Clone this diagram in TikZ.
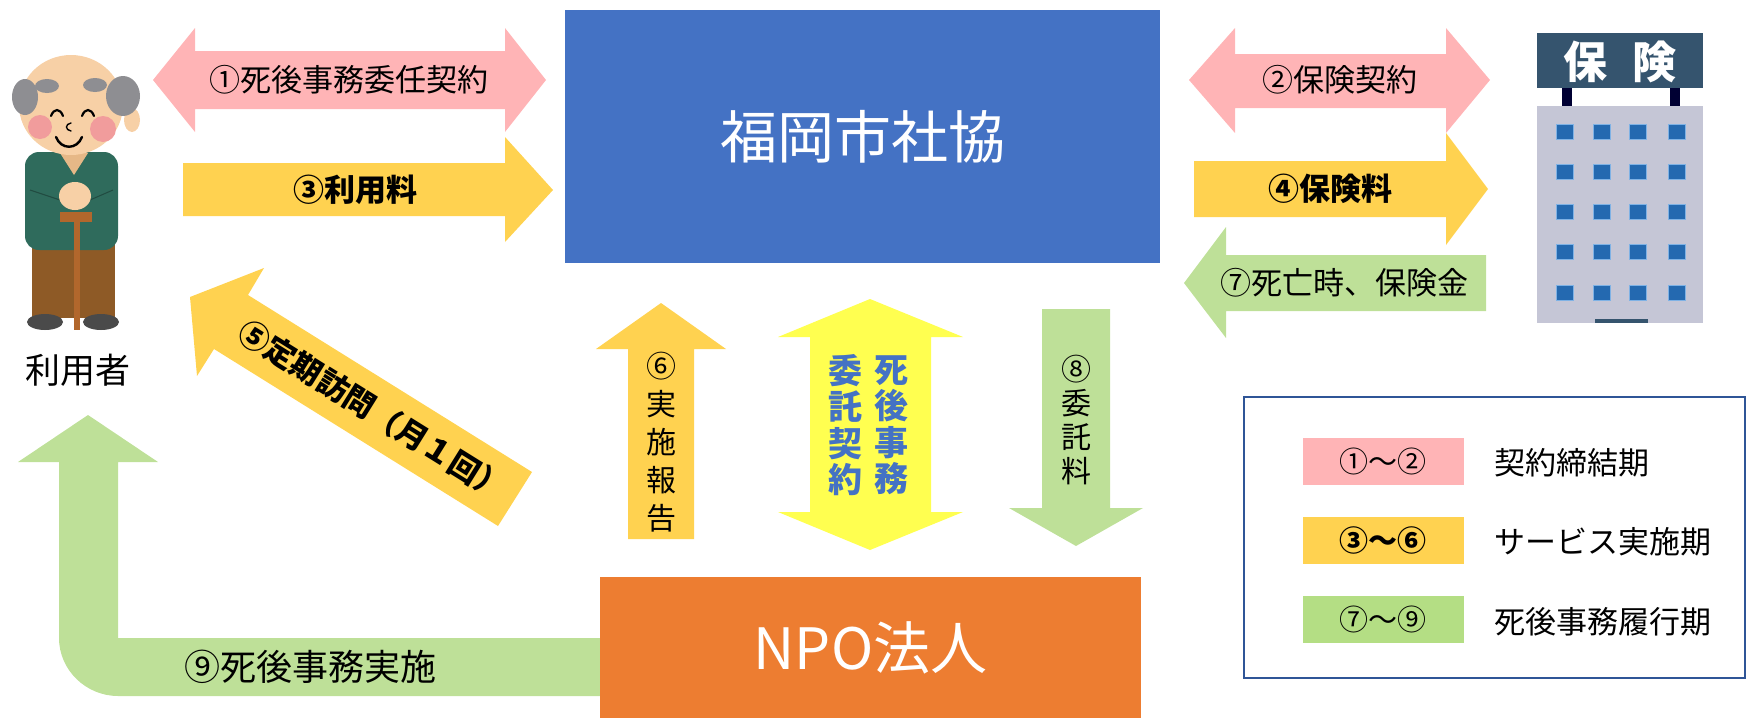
\documentclass[tikz,border=0pt]{standalone}
\usepackage{fontspec}
\setmainfont{Noto Sans CJK JP}
\definecolor{orgblue}{RGB}{68,114,196}
\definecolor{orgorange}{RGB}{237,125,49}
\definecolor{phasepink}{RGB}{255,180,182}
\definecolor{phasegold}{RGB}{255,210,80}
\definecolor{phasegreen}{RGB}{190,224,152}
\definecolor{legendgreen}{RGB}{180,222,132}
\definecolor{brightyellow}{RGB}{255,255,80}
\definecolor{legendframe}{RGB}{47,85,151}
\definecolor{skin}{RGB}{247,208,166}
\definecolor{hairgray}{RGB}{142,142,146}
\definecolor{cheek}{RGB}{241,156,156}
\definecolor{jacket}{RGB}{47,107,92}
\definecolor{pants}{RGB}{142,90,38}
\definecolor{cane}{RGB}{178,103,44}
\definecolor{shoe}{RGB}{74,74,74}
\definecolor{bldbody}{RGB}{197,198,214}
\definecolor{bldsign}{RGB}{53,84,110}
\definecolor{bldwin}{RGB}{36,105,176}
\definecolor{bldwinedge}{RGB}{127,178,229}
\begin{document}
\begin{tikzpicture}[x=1pt,y=-1pt,
  lbl/.style={inner sep=0pt,font=\fontsize{31}{31}\selectfont},
  lblb/.style={inner sep=0pt,font=\fontsize{31}{31}\selectfont\bfseries},
  vlbl/.style={inner sep=0pt,align=center},
  swatch/.style={minimum width=161pt,minimum height=47pt,inner sep=0pt},
  legtext/.style={inner sep=0pt,anchor=west,font=\fontsize{31}{31}\selectfont},
  winbox/.style={fill=bldwin,draw=bldwinedge,line width=1.5pt}]
\useasboundingbox (0,0) rectangle (1748,718);

% ---------- main organisations ----------
\node[fill=orgblue,minimum width=595pt,minimum height=253pt,inner sep=0pt,
      text=white,font=\fontsize{57}{57}\selectfont] (shakyo) at (862.5,136.5) {福岡市社協};

% ---------- user (elderly man) ----------
\begin{scope}
  % legs and shoes
  \fill[pants] (32,243) rectangle (115,318);
  \fill[shoe] (45,322) ellipse[x radius=18, y radius=8];
  \fill[shoe] (101,322) ellipse[x radius=18, y radius=8];
  % jacket
  \fill[jacket, rounded corners=14pt] (25,152) rectangle (118,250);
  \fill[skin!70!brown] (60,153) -- (88,153) -- (74,175) -- cycle;
  \draw[jacket!70!black,line width=1pt] (30,190) -- (60,200);
  \draw[jacket!70!black,line width=1pt] (113,190) -- (90,200);
  % hands on cane
  \fill[skin] (75,196) ellipse[x radius=16, y radius=14];
  \fill[cane] (60,212) rectangle (92,222);
  \fill[cane] (74,222) rectangle (80,330);
  % head
  \fill[skin] (132,120) ellipse[x radius=8, y radius=12];
  \fill[skin] (71,105) ellipse[x radius=52, y radius=50];
  \fill[hairgray] (25,97) ellipse[x radius=13, y radius=18];
  \fill[hairgray] (47,86) ellipse[x radius=12, y radius=7];
  \fill[hairgray] (95,85) ellipse[x radius=12, y radius=7];
  \fill[hairgray] (123,96) ellipse[x radius=17, y radius=20];
  \fill[cheek] (40,127) circle[radius=12];
  \fill[cheek] (103,129) circle[radius=13];
  \draw[line width=2.2pt,line cap=round] (51,116) .. controls (54,108) and (60,108) .. (63,116);
  \draw[line width=2.2pt,line cap=round] (82,116) .. controls (85,108) and (91,108) .. (94,116);
  \draw[line width=1.4pt,line cap=round] (71,123) .. controls (65,124) and (65,130) .. (71,131);
  \draw[line width=2.4pt,line cap=round] (56,137) .. controls (61,150) and (77,150) .. (82,137);
\end{scope}
\node[inner sep=0pt,font=\fontsize{35}{35}\selectfont] (user) at (78,370) {利用者};

% ---------- insurance company building ----------
\begin{scope}
  \fill[bldsign] (1537,33) rectangle (1703,88);
  \fill[black!80!blue] (1562,88) rectangle (1572,106);
  \fill[black!80!blue] (1670,88) rectangle (1680,106);
  \fill[bldbody] (1537,106) rectangle (1703,323);
  \foreach \wx in {1565,1602,1638,1677}
    \foreach \wy in {132,172,212,252,293}
      \draw[winbox] (\wx-8.5,\wy-7.5) rectangle (\wx+8.5,\wy+7.5);
  \fill[bldsign] (1595,319) rectangle (1648,323);
\end{scope}
\node[inner sep=0pt,text=white,font=\fontsize{44}{44}\selectfont\bfseries] (insurer) at (1620,62) {保\hspace{26pt}険};

% ---------- arrows: user <-> council ----------
\fill[phasepink] (153,80) -- (195,28) -- (195,51) -- (505,51) -- (505,28) -- (546,80)
  -- (505,132) -- (505,109) -- (195,109) -- (195,132) -- cycle;
\node[lbl] (a1) at (349,80) {①死後事務委任契約};

\fill[phasegold] (183,163) -- (505,163) -- (505,137) -- (553,190) -- (505,242)
  -- (505,216) -- (183,216) -- cycle;
\node[lblb] (a3) at (355,190) {③利用料};

% ---------- arrows: council <-> insurer ----------
\fill[phasepink] (1189,80) -- (1235,28) -- (1235,54) -- (1446,54) -- (1446,28) -- (1490,80)
  -- (1446,133) -- (1446,108) -- (1235,108) -- (1235,133) -- cycle;
\node[lbl] (a2) at (1340,80) {②保険契約};

\fill[phasegold] (1194,161) -- (1446,161) -- (1446,133) -- (1488,189) -- (1446,245)
  -- (1446,217) -- (1194,217) -- cycle;
\node[lblb] (a4) at (1330,189) {④保険料};

\fill[phasegreen] (1184,283) -- (1226,227) -- (1226,255) -- (1486,255) -- (1486,311)
  -- (1226,311) -- (1226,338) -- cycle;
\node[lbl] (a7) at (1344,283) {⑦死亡時、保険金};

% ---------- regular visit (diagonal) ----------
\fill[phasegold] (190,297) -- (264,268) -- (248,295) -- (532,472) -- (498,526)
  -- (214,349) -- (197,376) -- cycle;
\node[lblb,rotate=-31.9] (a5) at (373,410) {⑤定期訪問（月１回）};

% ---------- arrows: NPO <-> council ----------
\fill[phasegold] (661,303) -- (726,349) -- (694,349) -- (694,539) -- (628,539) -- (628,349)
  -- (596,349) -- cycle;
\node[vlbl,font=\fontsize{30}{38}\selectfont] (a6) at (661,442) {⑥\\実\\施\\報\\告};

\fill[brightyellow] (870,299) -- (963,337) -- (931,337) -- (931,512) -- (963,512) -- (870,550)
  -- (778,512) -- (810,512) -- (810,337) -- (778,337) -- cycle;
\node[vlbl,text=orgblue,font=\fontsize{34}{36.5}\selectfont\bfseries] (c1) at (891,425) {死\\後\\事\\務};
\node[vlbl,text=orgblue,font=\fontsize{34}{36.5}\selectfont\bfseries] (c2) at (845,425) {委\\託\\契\\約};

\fill[phasegreen] (1042,309) -- (1110,309) -- (1110,508) -- (1143,508) -- (1076,546)
  -- (1009,508) -- (1042,508) -- cycle;
\node[vlbl,font=\fontsize{30}{34}\selectfont] (a8) at (1076,420) {⑧\\委\\託\\料};

% ---------- NPO -> user (after death) ----------
\fill[phasegreen] (88,415) -- (158,462) -- (118,462) -- (118,638) -- (610,638) -- (610,696)
  -- (118,696) .. controls (86,696) and (59,670) .. (59,638) -- (59,462) -- (18,462) -- cycle;
\node[inner sep=0pt,font=\fontsize{36}{36}\selectfont] (a9) at (310,667) {⑨死後事務実施};

\node[fill=orgorange,minimum width=541pt,minimum height=141pt,inner sep=0pt,
      text=white,font=\fontsize{57}{57}\selectfont] (npo) at (870.5,647.5) {NPO法人};

% ---------- legend ----------
\draw[legendframe,line width=2.5pt,fill=white] (1244,397) rectangle (1745,678);
\node[swatch,fill=phasepink,font=\fontsize{29}{29}\selectfont] (k1) at (1383,461.5) {①～②};
\node[swatch,fill=phasegold,font=\fontsize{29}{29}\selectfont\bfseries] (k2) at (1383,540.5) {③～⑥};
\node[swatch,fill=legendgreen,font=\fontsize{29}{29}\selectfont] (k3) at (1383,619.5) {⑦～⑨};
\node[legtext] (t1) at (1494,463) {契約締結期};
\node[legtext] (t2) at (1494,542) {サービス実施期};
\node[legtext] (t3) at (1494,622) {死後事務履行期};
\end{tikzpicture}
\end{document}
